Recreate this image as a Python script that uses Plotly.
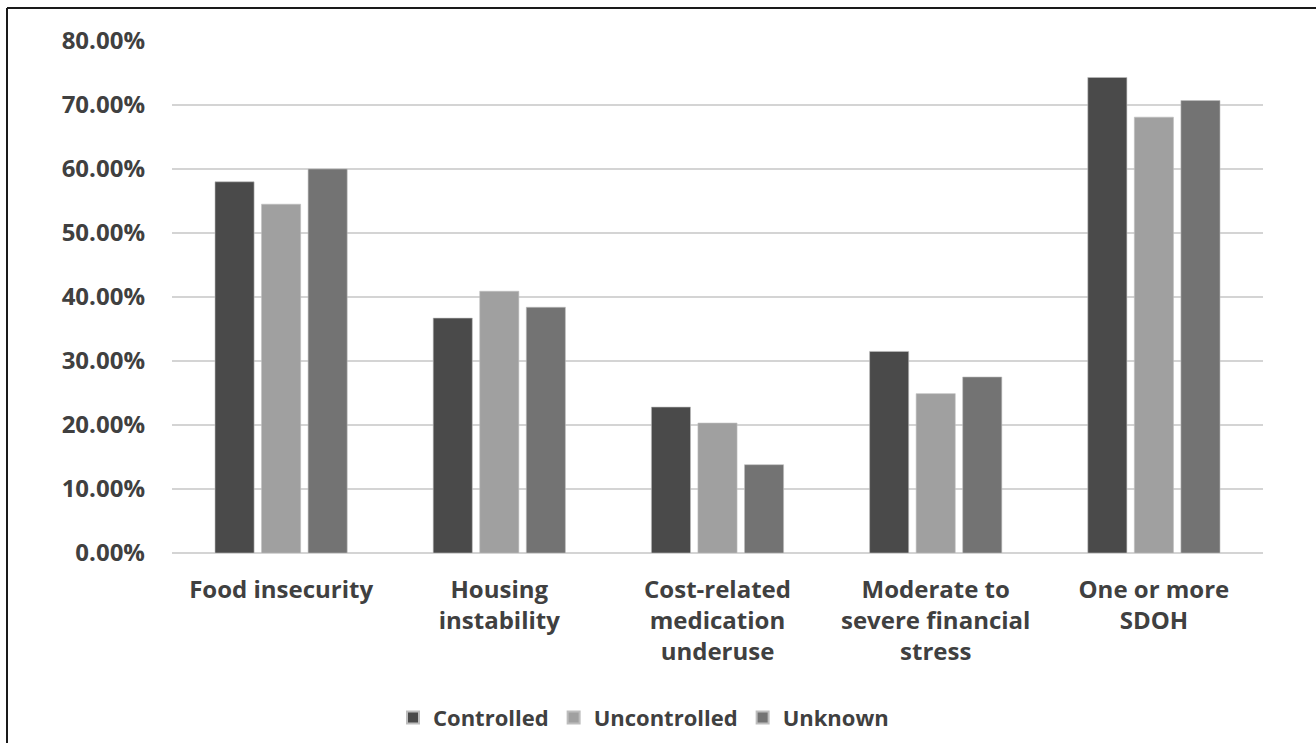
import plotly.graph_objects as go

categories = [
    "Food insecurity",
    "Housing<br>instability",
    "Cost-related<br>medication<br>underuse",
    "Moderate to<br>severe financial<br>stress",
    "One or more<br>SDOH",
]
controlled = [0.580, 0.367, 0.228, 0.315, 0.743]
uncontrolled = [0.545, 0.409, 0.203, 0.249, 0.681]
unknown = [0.600, 0.384, 0.138, 0.275, 0.707]
y_ticks = [0.0, 0.1, 0.2, 0.3, 0.4, 0.5, 0.6, 0.7, 0.8]

W, H = 1316, 743
L, R, T, B = 172, 53, 41, 190

font_family = "Open Sans"
text_color = "#404040"

fig = go.Figure()
for name, vals, color in [
    ("Controlled", controlled, "#4a4a4a"),
    ("Uncontrolled", uncontrolled, "#a0a0a0"),
    ("Unknown", unknown, "#737373"),
]:
    fig.add_trace(go.Bar(
        name=name, x=categories, y=vals,
        marker=dict(color=color, line=dict(color="#bdbdbd", width=0.6)),
    ))

# frame lines along top and left edge
px_x = lambda p: (p - L) / (W - L - R)
px_y = lambda p: (H - B - p) / (H - T - B)
fig.add_shape(type="line", xref="paper", yref="paper",
              x0=px_x(7), x1=px_x(W + 5), y0=px_y(8), y1=px_y(8),
              line=dict(color="#1a1a1a", width=2))
fig.add_shape(type="line", xref="paper", yref="paper",
              x0=px_x(7), x1=px_x(7), y0=px_y(8), y1=px_y(H + 5),
              line=dict(color="#1a1a1a", width=2))

fig.update_layout(
    width=W, height=H,
    margin=dict(l=L, r=R, t=T, b=B),
    paper_bgcolor="white", plot_bgcolor="white",
    barmode="group", bargap=0.36, bargroupgap=0.16,
    font=dict(family=font_family, color=text_color, size=24),
    showlegend=True,
    legend=dict(
        orientation="h", xref="container", yref="container",
        x=0.489, y=0.034, xanchor="center", yanchor="middle",
        font=dict(family=font_family, size=22, color=text_color, weight="bold"),
        itemsizing="constant", traceorder="normal",
    ),
    xaxis=dict(
        showgrid=False, showline=False, ticks="",
        tickfont=dict(family=font_family, size=24, color=text_color, weight="bold"),
        ticklabelstandoff=20,
    ),
    yaxis=dict(
        range=[0, 0.8], tickvals=y_ticks, tickformat=".2%",
        showgrid=True, gridcolor="#d4d4d4", gridwidth=1.5,
        zeroline=True, zerolinecolor="#d4d4d4", zerolinewidth=1.5,
        showline=False, ticks="",
        tickfont=dict(family=font_family, size=24, color=text_color, weight="bold"),
        ticklabelstandoff=26,
    ),
)

fig.write_html("out.html")
